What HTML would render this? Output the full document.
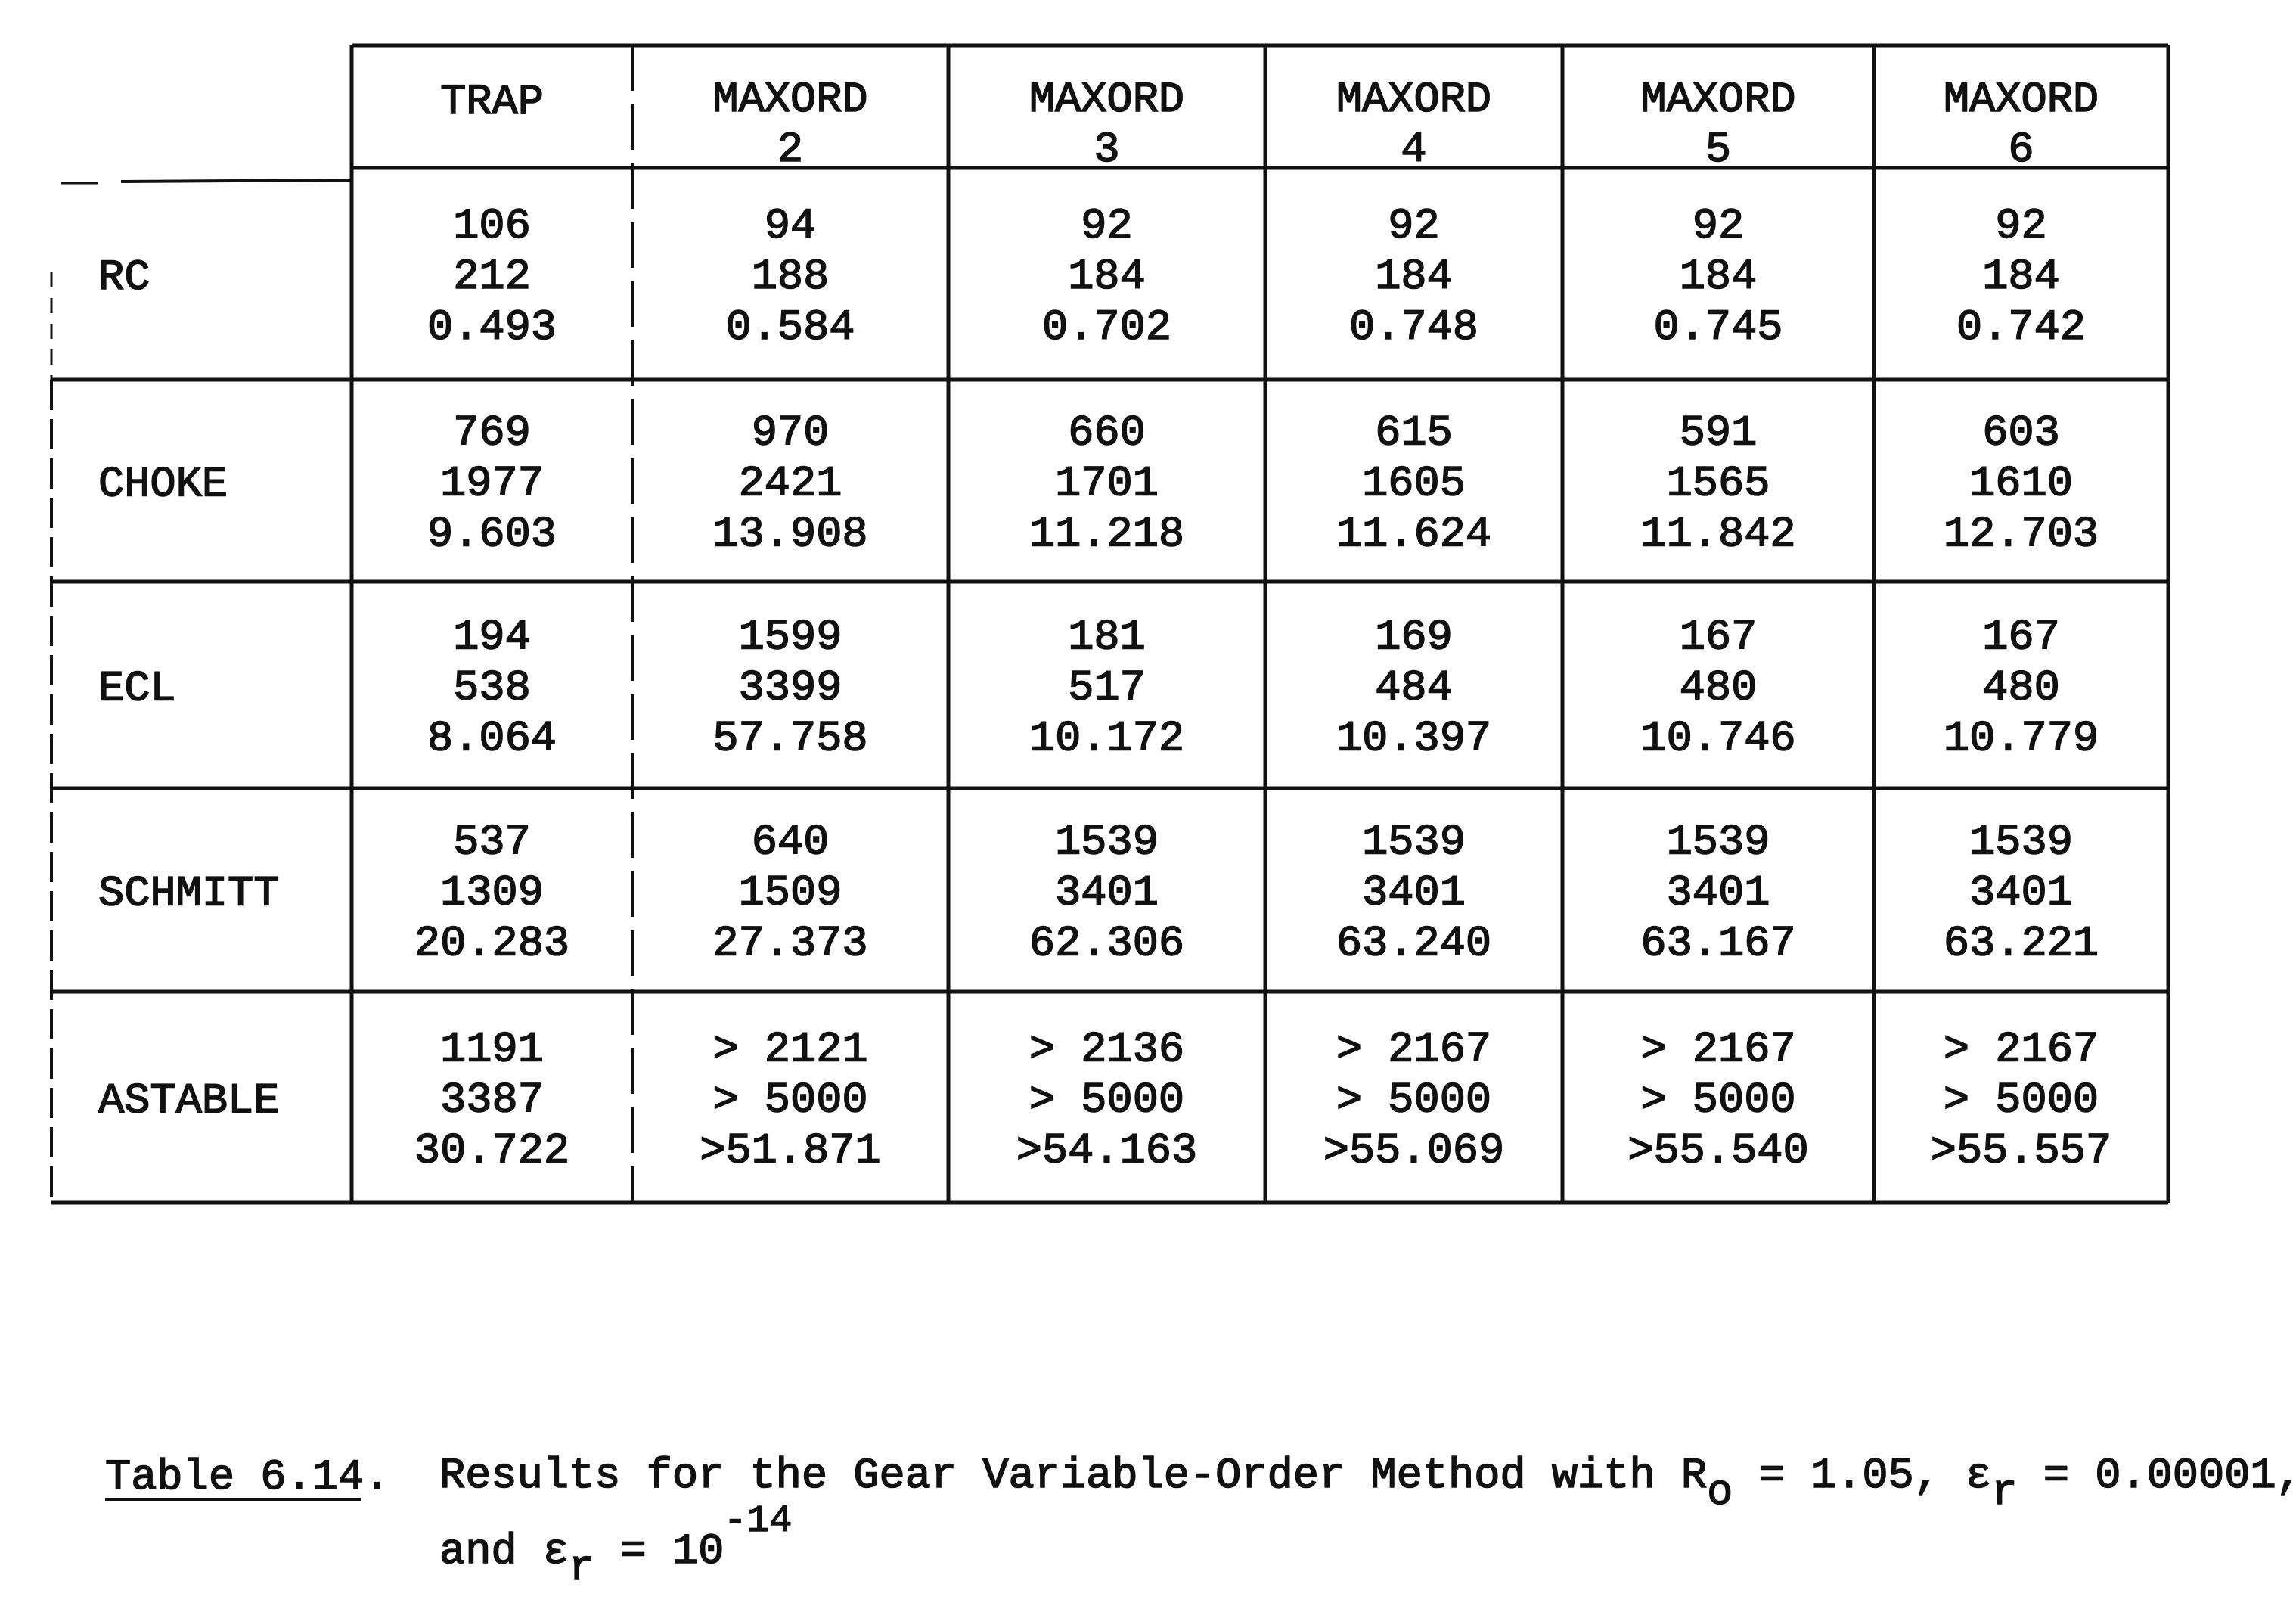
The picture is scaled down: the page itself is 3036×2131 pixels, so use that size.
<!DOCTYPE html>
<html><head><meta charset="utf-8"><style>
html,body{margin:0;padding:0;background:#fff;}
svg{display:block;}
text{font-family:"Liberation Mono","DejaVu Sans Mono",monospace;font-size:57px;fill:#111;stroke:#111;stroke-width:1.6;}
</style></head><body>
<svg id="s" width="3036" height="2131" viewBox="0 0 3036 2131">
<g id="grid" stroke="#111" stroke-width="5" fill="none"></g>
<g id="cells"></g>
<g>
<text x="139" y="1968">Table 6.14.</text>
<line x1="139" y1="1982" x2="478" y2="1982" stroke="#111" stroke-width="4"/>
<text x="581" y="1966">Results for the Gear Variable-Order Method with R<tspan dy="22">o</tspan><tspan dy="-22"> = 1.05, ε</tspan><tspan dy="22">r</tspan><tspan dy="-22"> = 0.00001,</tspan></text>
<text x="581" y="2066">and ε<tspan dy="22">r</tspan><tspan dy="-22"> = 10</tspan><tspan dy="-42" font-size="50">-14</tspan></text>
</g>
</svg>
<script>
const columns = ["TRAP", "MAXORD|2", "MAXORD|3", "MAXORD|4", "MAXORD|5", "MAXORD|6"];
const rows = ["RC", "CHOKE", "ECL", "SCHMITT", "ASTABLE"];
const rcVals = [["106","212","0.493"],["94","188","0.584"],["92","184","0.702"],["92","184","0.748"],["92","184","0.745"],["92","184","0.742"]];
const chokeVals = [["769","1977","9.603"],["970","2421","13.908"],["660","1701","11.218"],["615","1605","11.624"],["591","1565","11.842"],["603","1610","12.703"]];
const eclVals = [["194","538","8.064"],["1599","3399","57.758"],["181","517","10.172"],["169","484","10.397"],["167","480","10.746"],["167","480","10.779"]];
const schmittVals = [["537","1309","20.283"],["640","1509","27.373"],["1539","3401","62.306"],["1539","3401","63.240"],["1539","3401","63.167"],["1539","3401","63.221"]];
const astableVals = [["1191","3387","30.722"],["> 2121","> 5000",">51.871"],["> 2136","> 5000",">54.163"],["> 2167","> 5000",">55.069"],["> 2167","> 5000",">55.540"],["> 2167","> 5000",">55.557"]];
const values = [rcVals, chokeVals, eclVals, schmittVals, astableVals];

const NS = "http://www.w3.org/2000/svg";
const colX = [465, 836, 1254, 1673, 2066, 2478, 2867];
const rowY = [60, 222, 502, 769, 1042, 1311, 1590];
const leftX = 68;
const grid = document.getElementById('grid');
const cells = document.getElementById('cells');
function line(x1,y1,x2,y2,name,dash,w){
  const l=document.createElementNS(NS,'line');
  l.setAttribute('x1',x1);l.setAttribute('y1',y1);l.setAttribute('x2',x2);l.setAttribute('y2',y2);
  if(dash) l.setAttribute('stroke-dasharray',dash);
  if(w) l.setAttribute('stroke-width',w);
  
  
  grid.appendChild(l);
}
function txt(x,y,s,anchor,name){
  const t=document.createElementNS(NS,'text');
  t.setAttribute('x',x);t.setAttribute('y',y);t.setAttribute('text-anchor',anchor);
  t.textContent=s;
  
  
  cells.appendChild(t);
}
line(colX[0], rowY[0], colX[6], rowY[0], 'top-border');
line(colX[0], rowY[1], colX[6], rowY[1], 'header-divider');
line(80, 242, 130, 242, 'header-left-tick', null, 3);
line(160, 240, colX[0], 238, 'header-left-rule', null, 4);
for(let i=2;i<rowY.length;i++){
  line(leftX, rowY[i], colX[6], rowY[i], 'row-divider');
}
line(leftX, 360, leftX, rowY[2], 'left-border-dashed', '20 14', 3);
line(leftX, rowY[2], leftX, rowY[6], 'left-border', '40 12', 4);
for(let j=0;j<colX.length;j++){
  line(colX[j], rowY[0], colX[j], rowY[6], 'column-divider', j===1 ? '60 18' : null, j===1 ? 4 : null);
}
columns.forEach((c,j)=>{
  const cx=(colX[j]+colX[j+1])/2;
  const parts=c.split('|');
  if(parts.length===1){ txt(cx,150,parts[0],'middle','column-header'); }
  else { txt(cx,147,parts[0],'middle','column-header'); txt(cx,213,parts[1],'middle','column-header-order'); }
});
rows.forEach((r,i)=>{
  const top=rowY[i+1], bot=rowY[i+2];
  const mid=(top+bot)/2;
  txt(130, mid+20, r, 'start', 'row-label');
  values[i].forEach((v,j)=>{
    const cx=(colX[j]+colX[j+1])/2;
    v.forEach((s,k)=>{
      txt(cx, mid - 48 + k*67, s, 'middle', 'cell-value');
    });
  });
});
</script>
</body></html>
